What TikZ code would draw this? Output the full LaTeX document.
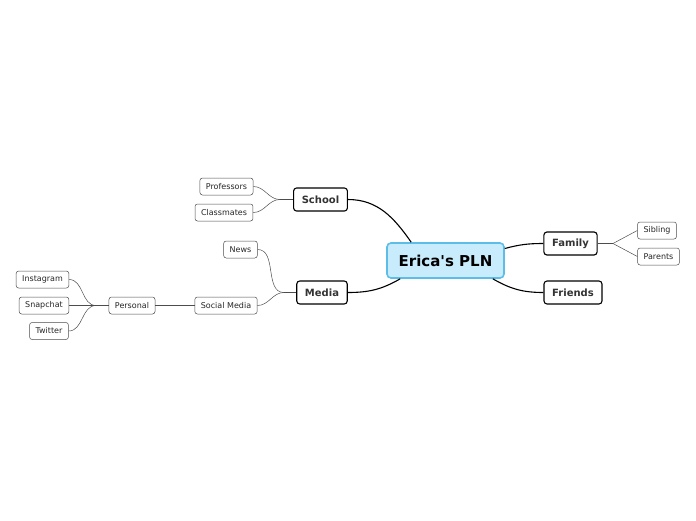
\documentclass[tikz,border=0pt]{standalone}
\usepackage{xcolor}
\usepackage{fontspec}
\setmainfont{DejaVu Sans}
\usepackage{tikz}

\definecolor{rootfill}{HTML}{C8ECFC}
\definecolor{rootline}{HTML}{5BBDE8}
\definecolor{txtgray}{HTML}{333333}

\tikzset{
    root/.style={draw=rootline, line width=1.6pt, fill=rootfill, rounded corners=4pt,
        minimum width=117pt, minimum height=35pt, font=\fontsize{15}{18}\selectfont\bfseries},
    branch/.style={draw=black, line width=1.1pt, fill=white, rounded corners=3pt,
        minimum height=23pt, inner xsep=8.2pt, font=\fontsize{10}{12}\selectfont\bfseries, text=txtgray},
    leaf/.style={draw=black!70, line width=0.5pt, fill=white, rounded corners=2.5pt,
        minimum height=17pt, inner xsep=6pt, font=\fontsize{8}{10}\selectfont, text=black!85},
    thick link/.style={line width=1.1pt},
    thin link/.style={line width=0.5pt, black!70}
}

\begin{document}
\begin{tikzpicture}[x=1pt, y=-1pt]
    \useasboundingbox (0, 0) rectangle (696, 520);

    \node[root] at (445.5, 260.5) (pln) {Erica\textquotesingle s PLN};

    \node[branch] at (320.5, 199.5) (school) {School};
    \node[branch] at (322, 292.5) (media) {Media};
    \node[branch] at (570.5, 243.5) (family) {Family};
    \node[branch] at (573, 292.5) (friends) {Friends};

    \node[leaf] at (226.5, 186.5) (prof) {Professors};
    \node[leaf] at (224, 212.5) (class) {Classmates};
    \node[leaf] at (240.5, 249.5) (news) {News};
    \node[leaf] at (226, 305.5) (social) {Social Media};
    \node[leaf] at (132, 305.5) (personal) {Personal};
    \node[leaf] at (42.5, 279.5) (insta) {Instagram};
    \node[leaf] at (44, 305.5) (snap) {Snapchat};
    \node[leaf] at (49, 331) (twitter) {Twitter};
    \node[leaf] at (657, 230.5) (sibling) {Sibling};
    \node[leaf] at (658.5, 256.5) (parents) {Parents};

    \coordinate (schooljoin) at (280, 199.5);
    \coordinate (mediajoin) at (284, 292.5);
    \coordinate (personaljoin) at (96, 305.5);
    \coordinate (familyjoin) at (613, 243.5);

    \draw[thick link] (pln.north west) ++(25, 0) coordinate (plnnw) to[out=125, in=0] (school.east);
    \draw[thick link] (pln.south west) ++(14, 0) coordinate (plnsw) to[out=-150, in=0] (media.east);
    \draw[thick link] (pln.east) ++(0, -12) coordinate (plne) to[out=15, in=180] (family.west);
    \draw[thick link] (pln.south east) ++(-12, 0) coordinate (plnse) to[out=-30, in=180] (friends.west);

    \draw[thin link] (school.west) -- (schooljoin);
    \draw[thin link] (schooljoin) to[out=180, in=0] (prof.east);
    \draw[thin link] (schooljoin) to[out=180, in=0] (class.east);

    \draw[thin link] (media.west) -- (mediajoin);
    \draw[thin link] (mediajoin) to[out=180, in=0] (news.east);
    \draw[thin link] (mediajoin) to[out=180, in=0] (social.east);
    \draw[thin link] (social.west) -- (personal.east);

    \draw[thin link] (personal.west) -- (personaljoin);
    \draw[thin link] (personaljoin) to[out=180, in=0] (insta.east);
    \draw[thin link] (personaljoin) -- (snap.east);
    \draw[thin link] (personaljoin) to[out=180, in=0] (twitter.east);

    \draw[thin link] (family.east) -- (familyjoin);
    \draw[thin link] (familyjoin) -- (sibling.west);
    \draw[thin link] (familyjoin) -- (parents.west);
\end{tikzpicture}
\end{document}
